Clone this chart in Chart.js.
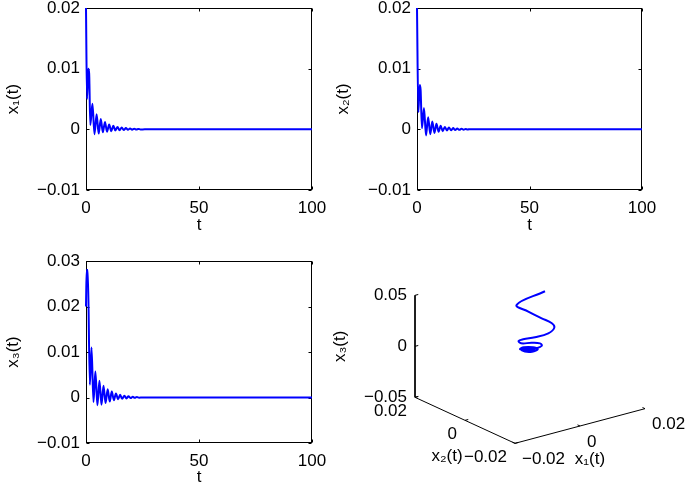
<!DOCTYPE html>
<html>
<head>
<meta charset="utf-8">
<title>States x1, x2, x3</title>
<script src="https://cdn.jsdelivr.net/npm/chart.js@4.4.0/dist/chart.umd.min.js"></script>
<style>
  html, body { margin: 0; padding: 0; background: #fff; overflow: hidden; width: 685px; height: 490px; position: relative; }
  canvas { position: absolute; left: -20px; top: -20px; }
</style>
</head>
<body>
<canvas id="p1" width="725" height="530"></canvas>
<canvas id="p2" width="725" height="530"></canvas>
<canvas id="p3" width="725" height="530"></canvas>
<canvas id="p4" width="725" height="530"></canvas>
<script>
// time series (peaks and troughs)
const tX1 = [0, 0.45, 1.0, 1.4, 1.9, 2.85, 3.75, 4.7, 5.6, 6.55, 7.45, 8.4, 9.3, 10.25, 11.15, 12.1, 13.0, 13.95, 14.85, 15.8, 16.7, 17.65, 18.55, 19.5, 20.4, 21.35, 22.25, 23.2, 24.1, 26, 30, 40, 60, 80, 100];
const x1 = [0.02, 0.005, 0.01, 0.0092, 0.0007, 0.0042, -0.0008, 0.0025, -0.0007, 0.0017, -0.0005, 0.0012, -0.0004, 0.0008, -0.0003, 0.0006, -0.0002, 0.0004, -0.00015, 0.0003, -0.0001, 0.0002, -0.00008, 0.00015, -0.00005, 0.0001, -0.00004, 0.00007, -0.00003, 0, 0, 0, 0, 0, 0];

const tX2 = [0, 0.6, 1.2, 1.6, 2.2, 3.1, 4.0, 4.95, 5.9, 6.8, 7.75, 8.65, 9.6, 10.5, 11.45, 12.35, 13.3, 14.2, 15.15, 16.05, 17.0, 17.9, 18.85, 19.75, 20.7, 21.6, 22.55, 23.45, 25, 30, 40, 60, 80, 100];
const x2 = [0.02, 0.0028, 0.0073, 0.0065, 0.0002, 0.0035, -0.0010, 0.0020, -0.0008, 0.0013, -0.0006, 0.0009, -0.0004, 0.0006, -0.0003, 0.0004, -0.0002, 0.0003, -0.00015, 0.0002, -0.0001, 0.00012, -0.00008, 0.00008, -0.00005, 0.00005, -0.00003, 0.00003, 0, 0, 0, 0, 0, 0];

const tX3 = [0, 0.3, 0.8, 1.7, 2.45, 3.3, 4.15, 5.05, 5.95, 6.85, 7.75, 8.65, 9.6, 10.5, 11.4, 12.35, 13.25, 14.2, 15.1, 16.0, 17.0, 17.9, 18.8, 19.75, 20.7, 21.6, 22.5, 23.5, 25, 30, 40, 60, 80, 100];
const x3 = [0.020, 0.028, 0.028, 0.0028, 0.0110, -0.0010, 0.0057, -0.0017, 0.0037, -0.0016, 0.0026, -0.0012, 0.0018, -0.0009, 0.0013, -0.0006, 0.0009, -0.0004, 0.0006, -0.0003, 0.0004, -0.0002, 0.00025, -0.00012, 0.00015, -0.00008, 0.0001, -0.00005, 0, 0, 0, 0, 0, 0];

// trajectory in the 3-D panel (x1, x2, x3)
const orbitX1 = [0.02, 0.0055, 0.0064, 0.0079, 0.0095, 0.0094, 0.0067, 0.0033, 0.0006, -0.0006, -0.0002, 0.0025, 0.0043, 0.0041, 0.0024, 0.0000, -0.0009, 0.0008, 0.0026, 0.0028, 0.0005, -0.0009, 0.0010, 0.0023, 0.0011, -0.0001, 0.0011, 0.0016, 0.0008];
const orbitX2 = [0.02, 0.0125, 0.0090, 0.0056, 0.0036, 0.0025, 0.0014, 0.0023, 0.0035, 0.0038, 0.0033, 0.0026, 0.0016, 0.0006, 0.0005, 0.0013, 0.0028, 0.0035, 0.0022, 0.0005, -0.0002, 0.0020, 0.0029, 0.0014, 0.0002, 0.0014, 0.0022, 0.0012, 0.0011];
const orbitX3 = [0.02, 0.0275, 0.024, 0.020, 0.016, 0.013, 0.011, 0.009, 0.008, 0.007, 0.005, 0.004, 0.003, 0.002, 0.001, 0.0005, 0.0003, 0, 0, 0, 0, 0, 0, 0, 0, 0, 0, 0, 0];

const xTicks3d = [-0.02, 0, 0.02];
const zTicks3d = [-0.05, 0, 0.05];

const BLUE = '#0000ff';
Chart.defaults.font.family = '"Liberation Sans", Arial, sans-serif';
Chart.defaults.font.size = 17;
Chart.defaults.color = '#000';

function fmt(v) {
  const r = Math.round(v * 100) / 100;
  if (r === 0) return '0';
  return (r < 0 ? '\u2212' : '') + Math.abs(r).toFixed(2);
}

// matlab style box with inward ticks, drawn under the curve
const boxPlugin = {
  id: 'box',
  beforeDatasetsDraw(chart) {
    const { ctx, chartArea: a, scales: { x, y } } = chart;
    const L = Math.round(a.left) + 0.5, R = Math.round(a.right) - 0.5;
    const T = Math.round(a.top) + 0.5, B = Math.round(a.bottom) - 0.5;
    ctx.save();
    ctx.strokeStyle = '#000';
    ctx.lineWidth = 1;
    ctx.strokeRect(L, T, R - L, B - T);
    ctx.beginPath();
    x.ticks.forEach(t => {
      const px = Math.round(x.getPixelForValue(t.value)) + 0.5;
      ctx.moveTo(px, B); ctx.lineTo(px, B - 3);
      ctx.moveTo(px, T); ctx.lineTo(px, T + 3);
    });
    y.ticks.forEach(t => {
      const py = Math.round(y.getPixelForValue(t.value)) + 0.5;
      ctx.moveTo(L, py); ctx.lineTo(L + 3, py);
      ctx.moveTo(R, py); ctx.lineTo(R - 3, py);
    });
    ctx.stroke();
    ctx.restore();
  }
};

function timeChart(id, times, values, yMax, yTitle, pad, yWidth, xHeight) {
  const points = times.map((t, i) => ({ x: t, y: values[i] }));
  return new Chart(document.getElementById(id), {
    type: 'line',
    data: {
      datasets: [{
        data: points,
        borderColor: BLUE,
        borderWidth: 2,
        pointRadius: 0,
        cubicInterpolationMode: 'monotone',
        clip: 2
      }]
    },
    options: {
      responsive: false,
      animation: false,
      events: [],
      layout: { padding: pad },
      plugins: { legend: { display: false }, tooltip: { enabled: false } },
      scales: {
        x: {
          type: 'linear', min: 0, max: 100,
          grid: { display: false, drawTicks: false },
          border: { display: false },
          ticks: { stepSize: 50, padding: 8, maxRotation: 0 },
          title: { display: true, text: 't', padding: 0 },
          afterFit: s => { s.height = xHeight; }
        },
        y: {
          min: -0.01, max: yMax,
          grid: { display: false, drawTicks: false },
          border: { display: false },
          ticks: { stepSize: 0.01, padding: 6, callback: fmt },
          title: { display: true, text: yTitle, padding: 0 },
          afterFit: s => { s.width = yWidth; }
        }
      }
    },
    plugins: [boxPlugin]
  });
}

timeChart('p1', tX1, x1, 0.02, 'x\u2081(t)', { left: 23, top: 28, right: 393, bottom: 274 }, 83, 46);
timeChart('p2', tX2, x2, 0.02, 'x\u2082(t)', { left: 353, top: 28, right: 63, bottom: 274 }, 84, 46);
timeChart('p3', tX3, x3, 0.03, 'x\u2083(t)', { left: 23, top: 281, right: 393, bottom: 22 }, 83, 45);

// 3-D view: fixed linear projection of (x1, x2, x3) onto the panel plane
function project(a, b, c) {
  return { x: 1.3 * a - b, y: 0.3468 * a + 0.46 * b + 0.408 * c };
}

const orbit = orbitX1.map((v, i) => project(v, orbitX2[i], orbitX3[i]));
const lo = xTicks3d[0], hi = xTicks3d[2], zlo = zTicks3d[0], zhi = zTicks3d[2];
const frame = [project(lo, hi, zhi), project(lo, hi, zlo), project(lo, lo, zlo), project(hi, lo, zlo)];

const axes3dPlugin = {
  id: 'axes3d',
  afterDraw(chart) {
    const { ctx, scales: { x, y } } = chart;
    const px = (a, b, c) => {
      const p = project(a, b, c);
      return [x.getPixelForValue(p.x), y.getPixelForValue(p.y)];
    };
    const tk = 0.001;
    ctx.save();
    ctx.strokeStyle = '#000';
    ctx.fillStyle = '#000';
    ctx.lineWidth = 1;
    ctx.font = '17px "Liberation Sans", Arial, sans-serif';
    ctx.beginPath();
    zTicks3d.forEach(v => {
      const [sx, sy] = px(lo, hi, v), [ex, ey] = px(lo + tk, hi, v);
      ctx.moveTo(sx, sy); ctx.lineTo(ex, ey);
    });
    xTicks3d.forEach(v => {
      let [sx, sy] = px(lo, v, zlo), [ex, ey] = px(lo + tk, v, zlo);
      ctx.moveTo(sx, sy); ctx.lineTo(ex, ey);
      [sx, sy] = px(v, lo, zlo); [ex, ey] = px(v, lo + tk, zlo);
      ctx.moveTo(sx, sy); ctx.lineTo(ex, ey);
    });
    ctx.stroke();

    ctx.textBaseline = 'middle';
    ctx.textAlign = 'right';
    zTicks3d.forEach(v => {
      const [sx, sy] = px(lo, hi, v);
      ctx.fillText(fmt(v), sx - 8, sy);
    });
    xTicks3d.forEach(v => {
      const [sx, sy] = px(lo, v, zlo);
      ctx.fillText(fmt(v), sx - 8, sy + 14);
    });
    ctx.textAlign = 'left';
    xTicks3d.forEach(v => {
      const [sx, sy] = px(v, lo, zlo);
      ctx.fillText(fmt(v), sx + 7, sy + 16);
    });

    ctx.textAlign = 'center';
    let [tx, ty] = px(0, lo, zlo);
    ctx.fillText('x\u2081(t)', tx + 10, ty + 33);
    [tx, ty] = px(lo, 0, zlo);
    ctx.fillText('x\u2082(t)', tx - 18, ty + 36);
    [tx, ty] = px(lo, hi, 0);
    ctx.translate(tx - 75, ty);
    ctx.rotate(-Math.PI / 2);
    ctx.fillText('x\u2083(t)', 0, 0);
    ctx.restore();
  }
};

new Chart(document.getElementById('p4'), {
  type: 'scatter',
  data: {
    datasets: [
      { data: orbit, showLine: true, borderColor: BLUE, borderWidth: 2, pointRadius: 0, tension: 0.4, clip: false },
      { data: frame, showLine: true, borderColor: '#000', borderWidth: 1, pointRadius: 0, tension: 0, clip: false }
    ]
  },
  options: {
    responsive: false,
    animation: false,
    events: [],
    layout: { padding: { left: 350, right: 25, top: 282, bottom: 23 } },
    plugins: { legend: { display: false }, tooltip: { enabled: false } },
    scales: {
      x: { type: 'linear', min: -0.08, max: 0.06, display: false },
      y: { type: 'linear', min: -0.054, max: 0.036, display: false }
    }
  },
  plugins: [axes3dPlugin]
});
</script>
</body>
</html>
